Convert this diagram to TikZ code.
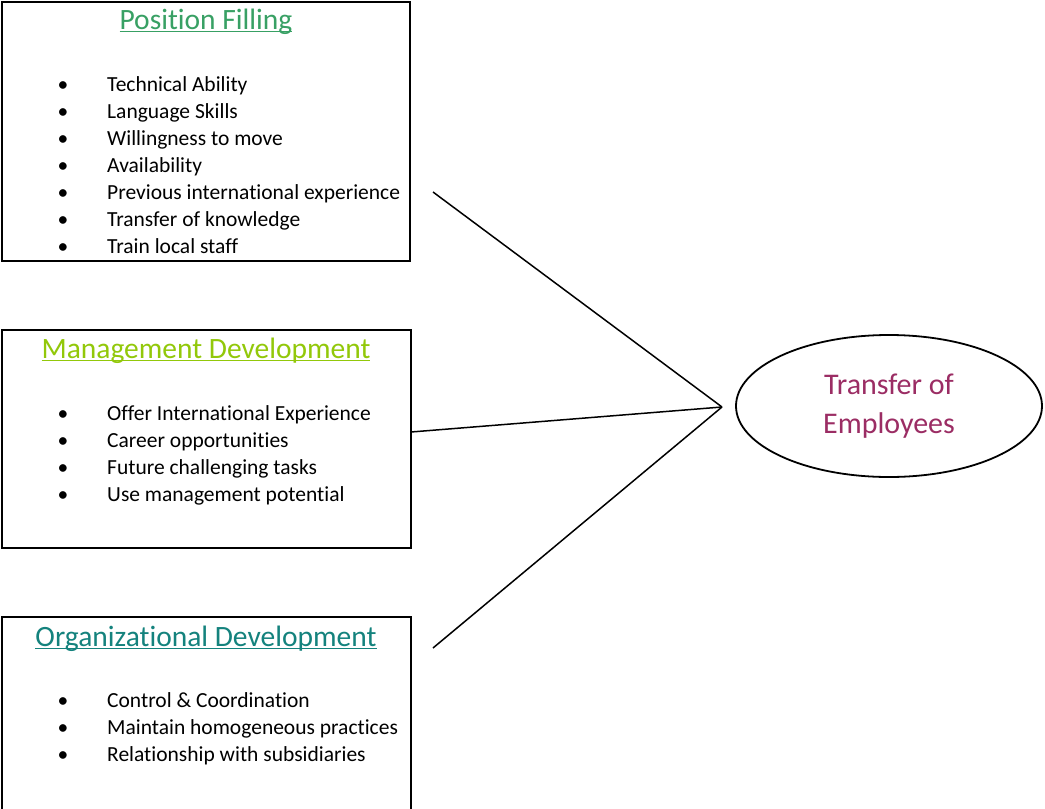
\documentclass[tikz,border=0pt]{standalone}
\usepackage{fontspec}
\setmainfont{Carlito}[Ligatures={NoCommon,NoContextual,NoRare,NoRequired}]
\usetikzlibrary{shapes.geometric}
\definecolor{pfgreen}{RGB}{56,160,100}
\definecolor{mdgreen}{RGB}{146,200,10}
\definecolor{odteal}{RGB}{20,130,125}
\definecolor{tepurple}{RGB}{155,45,100}
\newcommand\wul[1]{\setbox0\hbox{#1}\rlap{\rule[-3.4pt]{\wd0}{1.4pt}}\box0}
\begin{document}
\begin{tikzpicture}[x=1pt,y=-1pt,
  box/.style={draw, line width=2pt, inner sep=0pt, outer sep=0pt},
  ttl/.style={anchor=base, inner sep=0pt, font=\fontsize{29.5}{34}\selectfont},
  bul/.style={anchor=base, inner sep=0pt, font=\fontsize{21.5}{27}\selectfont},
  itm/.style={anchor=base west, inner sep=0pt, font=\fontsize{21.5}{27}\selectfont},
  conn/.style={draw, line width=1.5pt}]
\useasboundingbox (0,0) rectangle (1045,809);
\node[box, minimum width=408pt, minimum height=259pt] (b1) at (206,131.5) {};
\node[box, minimum width=409pt, minimum height=218pt] (b2) at (206.5,439) {};
\node[box, minimum width=409pt, minimum height=198pt] (b3) at (206.5,716) {};
\node[ttl, text=pfgreen] (t1) at (206,29) {\wul{Position Filling}};
\node[ttl, text=mdgreen] (t2) at (206,358) {\wul{Management Development}};
\node[ttl, text=odteal] (t3) at (206,646) {\wul{Organizational Development}};
% box 1 items
\foreach \i/\t in {0/Technical Ability,1/Language Skills,2/Willingness to move,3/Availability,4/Previous international experience,5/Transfer of knowledge,6/Train local staff}{
  \node[bul] (b1d\i) at (63,91+27*\i) {\textbullet};
  \node[itm] (b1i\i) at (107,91+27*\i) {\t};
}
\foreach \i/\t in {0/Offer International Experience,1/Career opportunities,2/Future challenging tasks,3/Use management potential}{
  \node[bul] (b2d\i) at (63,420+27*\i) {\textbullet};
  \node[itm] (b2i\i) at (107,420+27*\i) {\t};
}
\foreach \i/\t in {0/Control \& Coordination,1/Maintain homogeneous practices,2/Relationship with subsidiaries}{
  \node[bul] (b3d\i) at (63,707+27*\i) {\textbullet};
  \node[itm] (b3i\i) at (107,707+27*\i) {\t};
}
\node[draw, ellipse, line width=1.8pt, minimum width=306pt, minimum height=142pt, inner sep=0pt,
  text=tepurple, align=center, font=\fontsize{30}{39}\selectfont] (te) at (889,406) {Transfer of\\Employees};
\coordinate (hub) at (722,407);
\coordinate (p1) at (433,192);
\coordinate (p2) at (411,432);
\coordinate (p3) at (433,648);
\draw[conn] (p1) -- (hub);
\draw[conn] (p2) -- (hub);
\draw[conn] (p3) -- (hub);
\end{tikzpicture}
\end{document}
